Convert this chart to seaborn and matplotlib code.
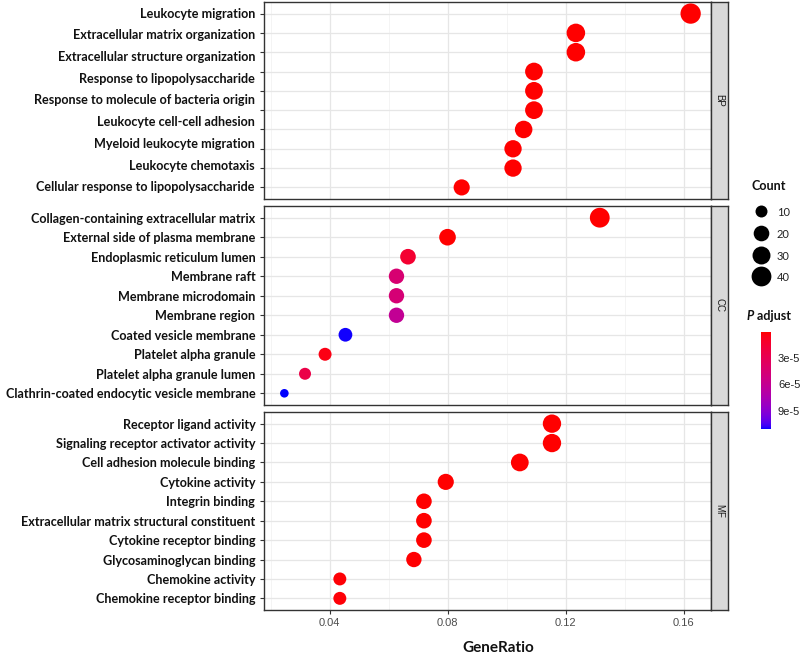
import numpy as np
import pandas as pd
import matplotlib
matplotlib.use("Agg")
import matplotlib.pyplot as plt
import seaborn as sns
from matplotlib.colors import ListedColormap, Normalize
from matplotlib.lines import Line2D
from matplotlib.transforms import ScaledTranslation
from matplotlib.cm import ScalarMappable

# ---------------- data ----------------
bp_labels = ["Leukocyte migration", "Extracellular matrix organization",
             "Extracellular structure organization", "Response to lipopolysaccharide",
             "Response to molecule of bacteria origin", "Leukocyte cell-cell adhesion",
             "Myeloid leukocyte migration", "Leukocyte chemotaxis",
             "Cellular response to lipopolysaccharide"]
bp_ratio = [0.1623, 0.1234, 0.1234, 0.1092, 0.1092, 0.1092, 0.1057, 0.1021, 0.1021, 0.0847]
bp_count = [43, 33, 33, 29, 29, 29, 28, 27, 27, 22]
bp_padj = [1e-12, 1e-11, 1e-11, 2e-10, 2e-10, 3e-10, 5e-9, 8e-9, 1e-8, 2e-7]

cc_terms = ["Collagen-containing extracellular matrix", "External side of plasma membrane",
            "Endoplasmic reticulum lumen", "Membrane raft", "Membrane microdomain",
            "Membrane region", "Coated vesicle membrane", "Platelet alpha granule",
            "Platelet alpha granule lumen", "Clathrin-coated endocytic vesicle membrane"]
cc_ratio = [0.1315, 0.0799, 0.0665, 0.0626, 0.0626, 0.0626, 0.0453, 0.0384, 0.0316, 0.0246]
cc_count = [40, 24, 20, 19, 19, 19, 14, 12, 10, 7]
cc_padj = [1e-9, 3e-7, 1.4e-5, 4.4e-5, 4.6e-5, 6.1e-5, 1.105e-4, 4e-6, 2.4e-5, 1.11e-4]

mf_terms = ["Receptor ligand activity", "Signaling receptor activator activity",
            "Cell adhesion molecule binding", "Cytokine activity", "Integrin binding",
            "Extracellular matrix structural constituent", "Cytokine receptor binding",
            "Glycosaminoglycan binding", "Chemokine activity", "Chemokine receptor binding"]
mf_ratio = [0.1153, 0.1153, 0.1044, 0.0793, 0.0719, 0.0719, 0.0719, 0.0685, 0.0434, 0.0434]
mf_count = [32, 32, 29, 22, 20, 20, 20, 19, 12, 12]
mf_padj = [1e-10, 1e-10, 2e-9, 5e-8, 1e-7, 2e-7, 3e-7, 5e-7, 1e-6, 1.5e-6]

facets = ["BP", "CC", "MF"]
count_breaks = [10, 20, 30, 40]
padj_breaks = [3e-5, 6e-5, 9e-5]
padj_break_labels = ["3e-5", "6e-5", "9e-5"]
x_breaks = [0.04, 0.08, 0.12, 0.16]
x_break_labels = ["0.04", "0.08", "0.12", "0.16"]

# ---------------- colour scale (Lab interpolation, red -> blue) ----------------
_M = np.array([[0.4124564, 0.3575761, 0.1804375],
               [0.2126729, 0.7151522, 0.0721750],
               [0.0193339, 0.1191920, 0.9503041]])
_W = np.array([0.95047, 1.0, 1.08883])


def _lin(c):
    return np.where(c <= 0.04045, c / 12.92, ((c + 0.055) / 1.055) ** 2.4)


def _gam(c):
    c = np.clip(c, 0, None)
    return np.where(c <= 0.0031308, 12.92 * c, 1.055 * np.power(c, 1 / 2.4) - 0.055)


def rgb2lab(rgb):
    xyz = _M @ _lin(np.asarray(rgb, float)) / _W
    d = 6 / 29
    f = np.where(xyz > d ** 3, np.cbrt(xyz), xyz / (3 * d * d) + 4 / 29)
    return np.array([116 * f[1] - 16, 500 * (f[0] - f[1]), 200 * (f[1] - f[2])])


def lab2rgb(lab):
    L, a, b = lab
    fy = (L + 16) / 116
    f = np.array([fy + a / 500, fy, fy - b / 200])
    d = 6 / 29
    xyz = np.where(f > d, f ** 3, 3 * d * d * (f - 4 / 29)) * _W
    return np.clip(_gam(np.linalg.inv(_M) @ xyz), 0, 1)


lab_lo, lab_hi = rgb2lab([1, 0, 0]), rgb2lab([0, 0, 1])
cmap = ListedColormap([lab2rgb(lab_lo + t * (lab_hi - lab_lo)) for t in np.linspace(0, 1, 256)])

all_p = bp_padj + cc_padj + mf_padj
norm = Normalize(vmin=min(all_p), vmax=max(all_p))

all_c = bp_count + cc_count + mf_count
cmin, cmax = min(all_c), max(all_c)


def size_area(c):
    # ggplot-like area scale: diameter in px
    d_px = 8.6 + 11.7 * np.sqrt(max(c - cmin, 0) / (cmax - cmin))
    d_pt = d_px * 72 / 100
    return d_pt ** 2


# ---------------- figure ----------------
sns.set_theme(style="white")
plt.rcParams['font.family'] = ['Lato', 'DejaVu Sans']

W, H = 800, 655
fig = plt.figure(figsize=(8, 6.55), dpi=100)


def px_axes(x0, y0, x1, y1):
    return fig.add_axes([x0 / W, 1 - y1 / H, (x1 - x0) / W, (y1 - y0) / H])


panel_y = [(2, 199), (206, 405), (412, 610)]
PX0, PX1, SX1 = 264, 711, 728
xlim = (0.0177, 0.1692)
grey20 = "#333333"

datasets = [
    (bp_ratio, bp_count, bp_padj, None),
    (cc_ratio, cc_count, cc_padj, cc_terms),
    (mf_ratio, mf_count, mf_padj, mf_terms),
]

label_font = dict(fontsize=9.1, fontweight="bold", color="#111111")

for i, ((ratio, count, padj, terms), (y0, y1), name) in enumerate(zip(datasets, panel_y, facets)):
    ax = px_axes(PX0, y0, PX1, y1)
    n = len(ratio)
    df = pd.DataFrame({"row": np.arange(n), "GeneRatio": ratio, "Count": count, "padj": padj})
    sizes = {c: size_area(c) for c in df["Count"].unique()}
    sns.scatterplot(data=df, x="GeneRatio", y="row", hue="padj", palette=cmap, hue_norm=norm,
                    size="Count", sizes=sizes, legend=False, linewidth=0, ax=ax, zorder=3)
    ax.set_xlim(*xlim)
    ax.set_ylim(n - 1 + 0.6, -0.6)
    ax.set_xticks(x_breaks)
    ax.set_xticks([0.02, 0.06, 0.10, 0.14], minor=True)
    ax.set_yticks(np.arange(n))
    ax.grid(True, which="major", color="#e6e6e6", linewidth=0.9, zorder=0)
    ax.grid(True, which="minor", axis="x", color="#f2f2f2", linewidth=0.6, zorder=0)
    ax.set_axisbelow(True)
    for sp in ax.spines.values():
        sp.set_color(grey20)
        sp.set_linewidth(1.0)
    ax.set_xlabel("")
    ax.set_ylabel("")
    ax.tick_params(axis="y", which="major", length=2.75, width=0.8, color=grey20, pad=3.5, left=True)
    if terms is not None:
        ax.set_yticklabels(terms, **label_font)
    else:
        ax.set_yticklabels([""] * n)
        tr = ax.get_yaxis_transform() + ScaledTranslation(-9 / 100, 0, fig.dpi_scale_trans)
        for lab, yy in zip(bp_labels, np.linspace(0, n - 1, len(bp_labels))):
            ax.text(0, yy, lab, transform=tr, ha="right", va="center", **label_font)
    if i == 2:
        ax.set_xticklabels(x_break_labels, fontsize=8, color="#4d4d4d", family="Liberation Sans")
        ax.tick_params(axis="x", which="major", length=2.75, width=0.8, color=grey20, pad=3, bottom=True)
        ax.tick_params(axis="x", which="minor", length=0)
    else:
        ax.tick_params(axis="x", which="both", length=0, labelbottom=False)

    # facet strip
    sax = px_axes(PX1, y0, SX1, y1)
    sax.set_facecolor("#d9d9d9")
    sax.set_xticks([])
    sax.set_yticks([])
    for sp in sax.spines.values():
        sp.set_color(grey20)
        sp.set_linewidth(1.0)
    sax.text(0.5, 0.5, name, rotation=270, ha="center", va="center", fontsize=7,
             color="#1a1a1a", family="Liberation Sans", transform=sax.transAxes)

# x axis title
fig.text(498 / W, 1 - 648 / H, "GeneRatio", ha="center", va="center", fontsize=11, fontweight="bold",
         color="#111111")

# size legend
fig.text(751 / W, 1 - 186 / H, "Count", ha="left", va="center", fontsize=9, fontweight="bold",
         color="#111111")
handles = [Line2D([], [], marker="o", ls="", color="black", markeredgewidth=0,
                  markersize=np.sqrt(size_area(c))) for c in count_breaks]
leg = fig.legend(handles, [str(c) for c in count_breaks], loc="upper left",
                 bbox_to_anchor=(753 / W, 1 - 206 / H), frameon=False, fontsize=8,
                 handlelength=1.5, handleheight=1.35, handletextpad=0.65, labelspacing=0.84,
                 borderpad=0, borderaxespad=0)
for t in leg.get_texts():
    t.set_color("#222222")

# colour bar
t1 = fig.text(747 / W, 1 - 316 / H, "P", ha="left", va="center", fontsize=9, fontweight="bold",
              fontstyle="italic", color="#111111")
fig.axes[0].annotate(" adjust", xy=(1, 0), xycoords=t1, ha="left", va="bottom", fontsize=9,
                     fontweight="bold", color="#111111", annotation_clip=False)
cax = px_axes(761, 332, 771, 429)
cb = fig.colorbar(ScalarMappable(norm=norm, cmap=cmap), cax=cax, ticks=padj_breaks)
cb.outline.set_visible(False)
cax.invert_yaxis()
cax.set_yticklabels(padj_break_labels, fontsize=8, color="#222222", family="Liberation Sans")
cax.tick_params(axis="y", which="both", direction="in", length=2.2, width=0.8, color="white",
                left=True, right=True, pad=5)

fig.savefig("out.png", dpi=100)
